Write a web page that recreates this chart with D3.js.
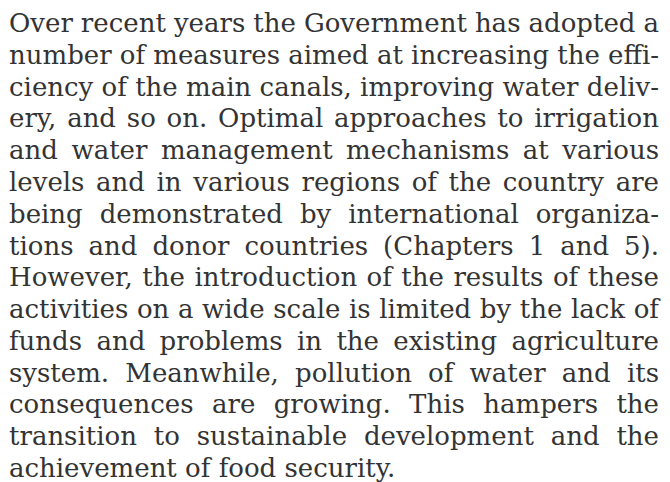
<!DOCTYPE html>
<html>
<head>
<meta charset="utf-8">
<script src="https://cdn.jsdelivr.net/npm/d3@7"></script>
<style>
  html, body { margin: 0; padding: 0; background: #fff; }
  svg { display: block; }
</style>
</head>
<body>
<svg id="page" width="670" height="482"></svg>
<script>
// paragraph lines, as broken in the reference
let lines = [
    "Over recent years the Government has adopted a",
    "number of measures aimed at increasing the effi-",
    "ciency of the main canals, improving water deliv-",
    "ery, and so on. Optimal approaches to irrigation",
    "and water management mechanisms at various",
    "levels and in various regions of the country are",
    "being demonstrated by international organiza-",
    "tions and donor countries (Chapters 1 and 5).",
    "However, the introduction of the results of these",
    "activities on a wide scale is limited by the lack of",
    "funds and problems in the existing agriculture",
    "system. Meanwhile, pollution of water and its",
    "consequences are growing. This hampers the",
    "transition to sustainable development and the",
    "achievement of food security."
];

let left = 9, right = 659;
let fontSize = 26;

let svg = d3.select("#page");

let y = d3.scalePoint()
    .domain(d3.range(lines.length))
    .range([32, 477]);

let g = svg.append("g")
    .attr("font-family", "'DejaVu Serif', serif")
    .attr("font-size", fontSize)
    .attr("fill", "#333");

// measure a string at the current font
let probe = g.append("text").attr("visibility", "hidden");
let measure = function (s) {
    probe.text(s);
    return probe.node().getComputedTextLength();
};

lines.forEach(function (line, i) {
    let words = line.split(" ");
    let widths = words.map(measure);
    let total = d3.sum(widths);
    let spaceW = measure("a a") - measure("aa");
    let isLast = i == lines.length - 1;
    let avail = right - left;
    let gap = isLast ? spaceW : (avail - total) / (words.length - 1);
    let squeeze = 1;
    if (gap < spaceW * 0.6 && !isLast) {
        // too long: squeeze the glyphs a little
        gap = spaceW * 0.6;
        squeeze = (avail - gap * (words.length - 1)) / total;
    }
    let x = left;
    let row = g.append("g").attr("class", "line");
    words.forEach(function (w, k) {
        row.append("text")
            .attr("transform", "translate(" + x + "," + y(i) + ") scale(" + squeeze + ",1)")
            .text(w);
        x += widths[k] * squeeze + gap;
    });
});

probe.remove();
</script>
</body>
</html>
